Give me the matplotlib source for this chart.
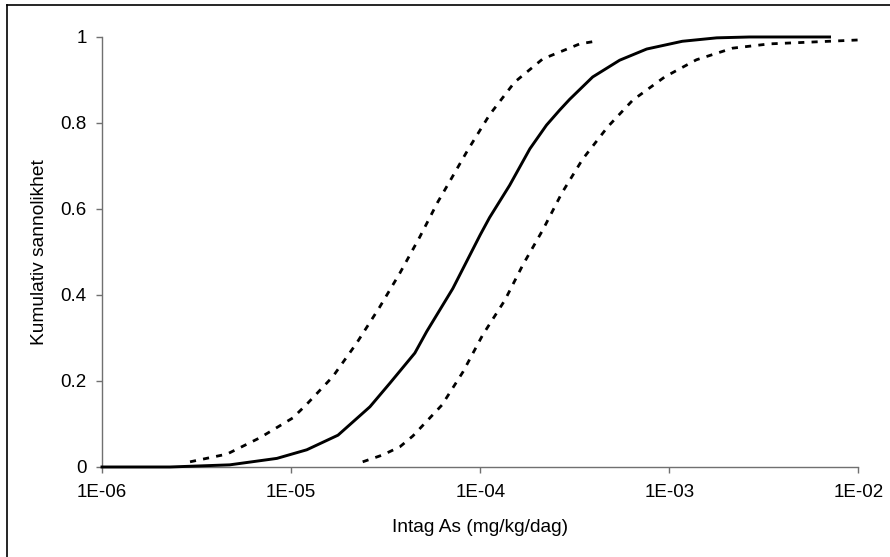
import matplotlib.pyplot as plt
from matplotlib.lines import Line2D

plt.rcParams['font.family'] = ['Liberation Sans', 'DejaVu Sans']

# median curve (solid)
x_mid = [1.0e-6, 2.29e-6, 4.74e-6, 8.41e-6, 1.21e-5, 1.77e-5, 2.61e-5, 3.33e-5,
         4.51e-5, 5.21e-5, 7.16e-5, 1.0e-4, 1.12e-4, 1.43e-4, 1.83e-4, 2.24e-4,
         2.63e-4, 2.97e-4, 3.93e-4, 5.46e-4, 7.59e-4, 1.17e-3, 1.78e-3, 2.65e-3,
         7.03e-3]
y_mid = [0.0, 0.0, 0.005, 0.02, 0.04, 0.074, 0.14, 0.195,
         0.265, 0.315, 0.415, 0.54, 0.58, 0.655, 0.74, 0.795,
         0.83, 0.855, 0.907, 0.946, 0.972, 0.99, 0.998, 1.0,
         1.0]

# lower bound (left dashed)
x_lo = [2.92e-6, 4.58e-6, 6.84e-6, 1.02e-5, 1.21e-5, 1.66e-5, 2.22e-5, 2.94e-5,
        3.76e-5, 4.79e-5, 5.96e-5, 6.73e-5, 8.59e-5, 1.12e-4, 1.52e-4, 2.14e-4,
        2.70e-4, 3.36e-4, 4.18e-4]
y_lo = [0.012, 0.03, 0.068, 0.114, 0.146, 0.21, 0.288, 0.372,
        0.451, 0.535, 0.616, 0.656, 0.737, 0.819, 0.895, 0.949,
        0.967, 0.984, 0.991]

# upper bound (right dashed)
x_hi = [2.39e-5, 3.05e-5, 3.76e-5, 4.40e-5, 5.28e-5, 6.27e-5, 8.10e-5, 1.03e-4,
        1.35e-4, 1.68e-4, 2.14e-4, 2.70e-4, 3.48e-4, 4.72e-4, 6.40e-4, 9.44e-4,
        1.39e-3, 2.16e-3, 3.39e-3, 5.51e-3, 9.89e-3]
y_hi = [0.012, 0.028, 0.047, 0.072, 0.109, 0.144, 0.221, 0.307,
        0.388, 0.47, 0.551, 0.637, 0.716, 0.791, 0.853, 0.907,
        0.947, 0.974, 0.984, 0.988, 0.993]

x_ticks = [1e-6, 1e-5, 1e-4, 1e-3, 1e-2]
x_labels = ['1E-06', '1E-05', '1E-04', '1E-03', '1E-02']
y_ticks = [0, 0.2, 0.4, 0.6, 0.8, 1]
y_labels = ['0', '0.2', '0.4', '0.6', '0.8', '1']

fig = plt.figure(figsize=(8.9, 5.57), dpi=100)
ax = fig.add_axes([0.1146, 0.1616, 0.8500, 0.7720])

dash = (0, (2.2, 2.6))
ax.plot(x_lo, y_lo, color='black', lw=2.0, linestyle=dash, zorder=3, clip_on=False)
ax.plot(x_hi, y_hi, color='black', lw=2.0, linestyle=dash, zorder=3, clip_on=False)
ax.plot(x_mid, y_mid, color='black', lw=2.1, zorder=4, clip_on=False)

ax.set_xscale('log')
ax.set_xlim(1e-6, 1e-2)
ax.set_ylim(0, 1)
ax.set_xticks(x_ticks, x_labels)
ax.set_yticks(y_ticks, y_labels)
ax.minorticks_off()

for s in ['top', 'right']:
    ax.spines[s].set_visible(False)
for s in ['left', 'bottom']:
    ax.spines[s].set_color('#707070')
    ax.spines[s].set_linewidth(1.0)
ax.tick_params(axis='both', direction='out', length=4, width=1.0, color='#707070',
               labelsize=13.5, labelcolor='black')
ax.tick_params(axis='x', pad=8)
ax.tick_params(axis='y', pad=7)

ax.set_xlabel('Intag As (mg/kg/dag)', fontsize=13.8, labelpad=13)
ax.set_ylabel('Kumulativ sannolikhet', fontsize=13.8, labelpad=9)

# outer chart border (left and top edges visible)
fig.add_artist(Line2D([0.008, 0.008], [0.0, 0.991], transform=fig.transFigure,
                      color='black', lw=1.2))
fig.add_artist(Line2D([0.008, 1.0], [0.991, 0.991], transform=fig.transFigure,
                      color='black', lw=1.2))

fig.savefig('out.png', dpi=100)
